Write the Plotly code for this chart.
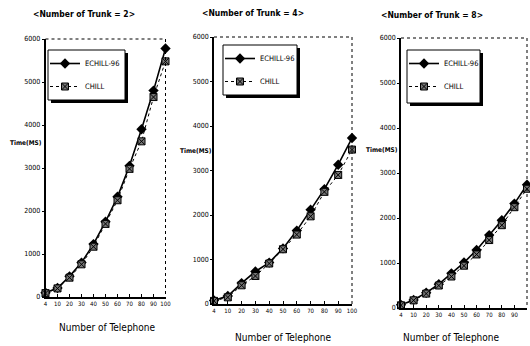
import plotly.graph_objects as go

categories = ["4", "10", "20", "30", "40", "50", "60", "70", "80", "90", "100"]
y_ticks = [0, 1000, 2000, 3000, 4000, 5000, 6000]

echill_t2 = [100, 210, 480, 800, 1230, 1750, 2330, 3050, 3900, 4800, 5780]
chill_t2 = [90, 200, 450, 760, 1170, 1700, 2250, 2980, 3620, 4650, 5480]
echill_t4 = [80, 180, 470, 730, 930, 1250, 1650, 2120, 2580, 3130, 3730]
chill_t4 = [70, 150, 420, 630, 910, 1230, 1560, 1970, 2520, 2900, 3470]
echill_t8 = [70, 180, 340, 530, 770, 1010, 1290, 1620, 1950, 2320, 2740]
chill_t8 = [60, 170, 320, 500, 700, 940, 1190, 1510, 1840, 2240, 2650]

titles = ["&lt;Number of Trunk = 2&gt;", "&lt;Number of Trunk = 4&gt;", "&lt;Number of Trunk = 8&gt;"]
series = [(echill_t2, chill_t2), (echill_t4, chill_t4), (echill_t8, chill_t8)]

W, H = 530, 346
def px(x):
    return x / W
def py(y):
    return 1 - y / H

# panel geometry in window pixels: (left, right, top, bottom)
panels = [(45.5, 165.5, 39, 297), (214, 352, 37, 304), (401, 527, 38, 308)]
legend_boxes = [(48, 125, 50, 100), (223, 297, 45, 95), (407, 480, 50, 103)]
title_pos = [(84, 14), (253, 13), (432, 15)]
xtitle_pos = [(107, 327), (283, 337), (451, 337)]
ylabel_pos = [(26, 143), (196, 151), (382, 150)]

FONT = "DejaVu Sans Condensed"
fig = go.Figure()
xidx = list(range(len(categories)))
shapes = []
annotations = []

for i, ((ech, chl), (l, r, t, b)) in enumerate(zip(series, panels)):
    n = "" if i == 0 else str(i + 1)
    leg = "legend" + n
    fig.add_trace(go.Scatter(
        x=xidx, y=ech, name="ECHILL-96", mode="lines+markers",
        line=dict(color="black", width=1.6),
        marker=dict(symbol="diamond", size=8, color="black"),
        xaxis="x" + n, yaxis="y" + n, legend=leg, legendgroup="a" + n,
        cliponaxis=False))
    fig.add_trace(go.Scatter(
        x=xidx, y=chl, name="CHILL", mode="lines+markers",
        line=dict(color="black", width=1, dash="dot"),
        marker=dict(symbol="square-x", size=7, color="#777777",
                    line=dict(color="black", width=1)),
        xaxis="x" + n, yaxis="y" + n, legend=leg, legendgroup="b" + n,
        cliponaxis=False))

    common_font = dict(family=FONT, size=6, color="black")
    fig.update_layout(**{
        "xaxis" + n: dict(
            domain=[px(l), px(r)], range=[0, len(categories) - 1],
            tickvals=xidx, ticktext=categories, tickfont=common_font,
            showline=True, linecolor="black", linewidth=1.5,
            ticks="inside", ticklen=3, tickcolor="black", automargin=False,
            showgrid=False, zeroline=False, anchor="y" + n, fixedrange=True),
        "yaxis" + n: dict(
            domain=[py(b), py(t)], range=[0, 6000],
            tickvals=y_ticks, tickfont=dict(family=FONT, size=7, color="black"),
            showline=True, linecolor="black", linewidth=1.5,
            ticks="outside", ticklen=2, tickcolor="black", automargin=False,
            showgrid=False, zeroline=False, anchor="x" + n, fixedrange=True),
        leg: dict(
            x=px(legend_boxes[i][0] - 3), y=py(legend_boxes[i][2] - 1),
            xanchor="left", yanchor="top", bgcolor="rgba(0,0,0,0)",
            borderwidth=0, font=dict(family=FONT, size=7.5, color="black"),
            tracegroupgap=4, itemwidth=30),
    })
    # dotted top and right frame
    shapes.append(dict(type="line", xref="paper", yref="paper",
                       x0=px(l), x1=px(r), y0=py(t), y1=py(t),
                       line=dict(color="black", width=1, dash="dot")))
    shapes.append(dict(type="line", xref="paper", yref="paper",
                       x0=px(r), x1=px(r), y0=py(t), y1=py(b),
                       line=dict(color="black", width=1, dash="dot")))
    # legend box with shadow
    lx0, lx1, ly0, ly1 = legend_boxes[i]
    shapes.append(dict(type="rect", xref="paper", yref="paper",
                       x0=px(lx0 + 3), x1=px(lx1 + 3), y0=py(ly0 + 3), y1=py(ly1 + 3),
                       fillcolor="black", line=dict(width=0), layer="above"))
    shapes.append(dict(type="rect", xref="paper", yref="paper",
                       x0=px(lx0), x1=px(lx1), y0=py(ly0), y1=py(ly1),
                       fillcolor="white", line=dict(color="black", width=1), layer="above"))
    annotations.append(dict(text="<b>" + titles[i] + "</b>", xref="paper", yref="paper",
                            x=px(title_pos[i][0]), y=py(title_pos[i][1]),
                            showarrow=False, xanchor="center", yanchor="middle",
                            font=dict(family=FONT, size=8.5, color="black")))
    annotations.append(dict(text="Number of Telephone", xref="paper", yref="paper",
                            x=px(xtitle_pos[i][0]), y=py(xtitle_pos[i][1]),
                            showarrow=False, xanchor="center", yanchor="middle",
                            font=dict(family=FONT, size=10, color="black")))
    annotations.append(dict(text="<b>Time(MS)</b>", xref="paper", yref="paper",
                            x=px(ylabel_pos[i][0]), y=py(ylabel_pos[i][1]),
                            showarrow=False, xanchor="center", yanchor="middle",
                            font=dict(family=FONT, size=6.5, color="black")))

fig.update_layout(
    width=W, height=H, margin=dict(l=0, r=0, t=0, b=0, autoexpand=False),
    paper_bgcolor="white", plot_bgcolor="white",
    shapes=shapes, annotations=annotations, showlegend=True,
)
fig.write_html(
    "out.html", config={"displayModeBar": False},
    post_script="document.body.style.margin='0';document.body.style.overflow='hidden';",
)
